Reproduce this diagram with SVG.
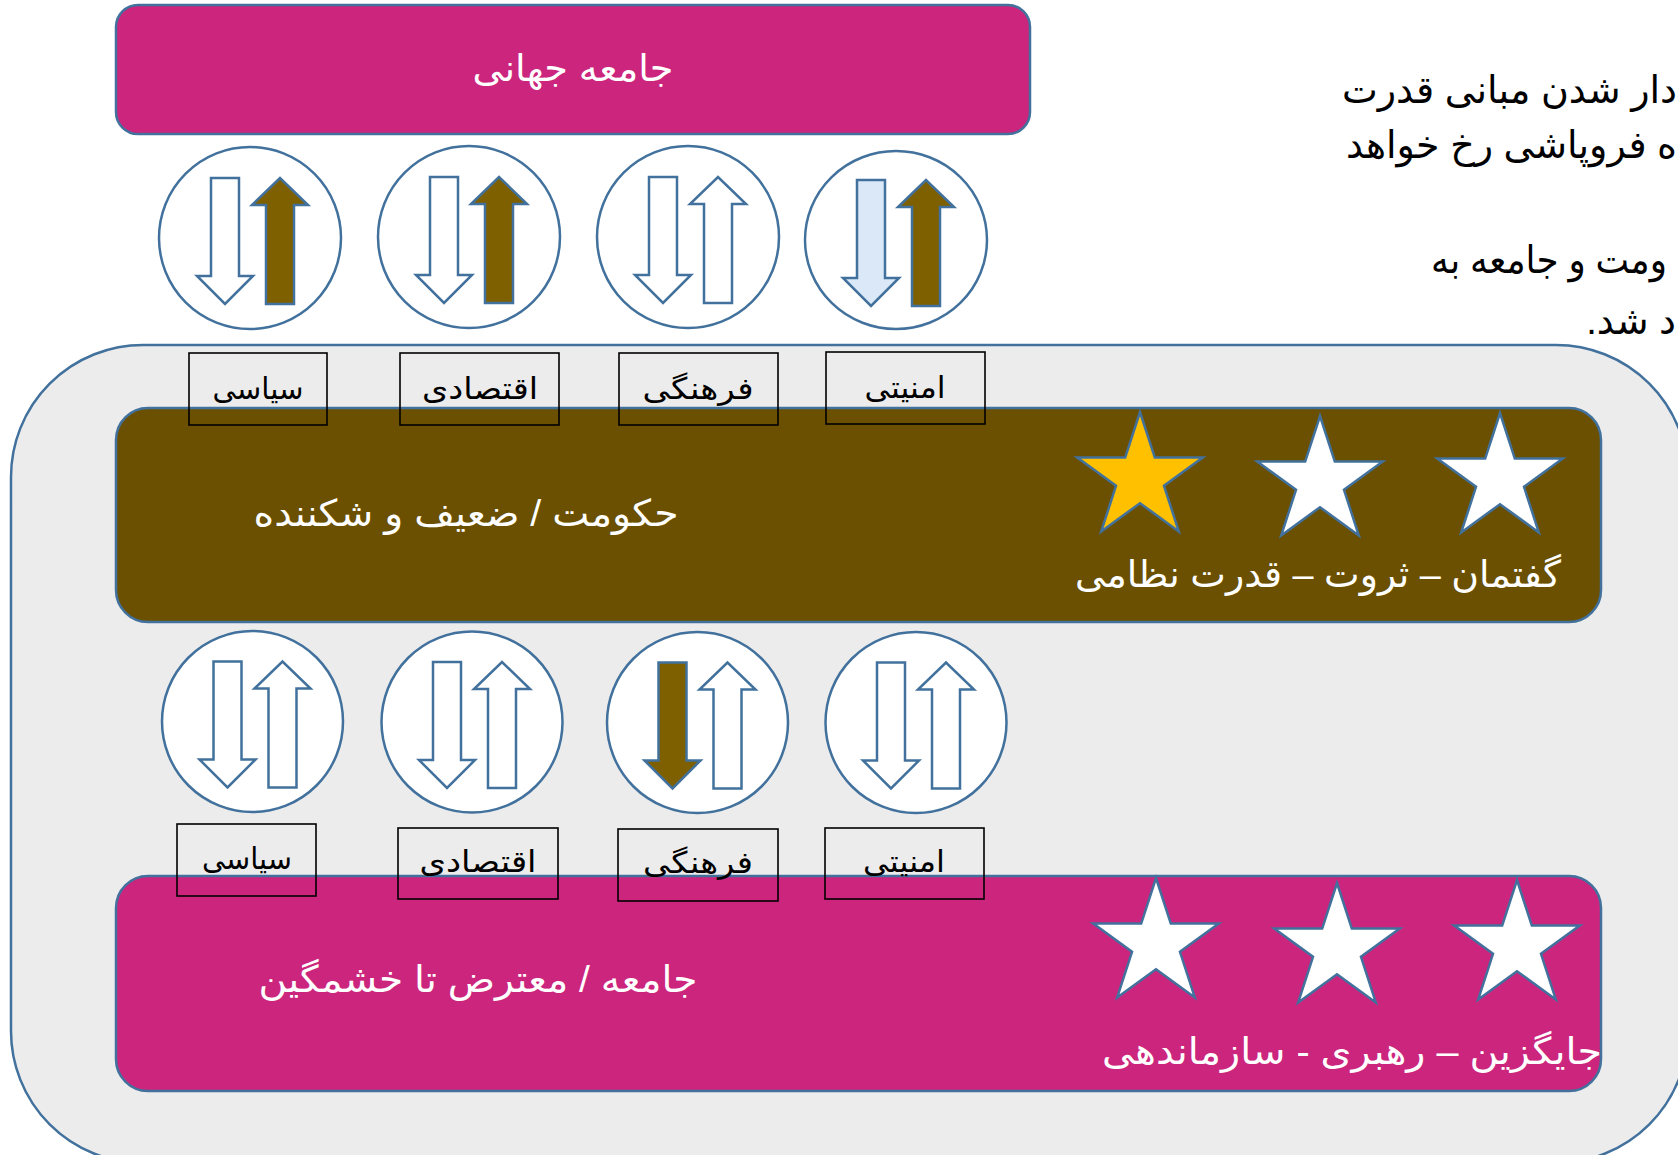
<svg xmlns="http://www.w3.org/2000/svg" xmlns:xlink="http://www.w3.org/1999/xlink" width="1678" height="1155" viewBox="0 0 1678 1155">
<style>
.txt{font-family:"Liberation Sans","DejaVu Sans",sans-serif;}
.wt{fill:#FFFFFF;}
.bk{fill:#000000;}
.circ{fill:#FFFFFF;stroke:#41719C;stroke-width:2.5;}
.arr{stroke:#41719C;stroke-width:2.5;stroke-linejoin:miter;}
.aw{fill:#FFFFFF;}
.ab{fill:#7F6000;}
.al{fill:#DAE8F7;}
.star{stroke:#41719C;stroke-width:2.5;}
.lbl{fill:none;stroke:#000000;stroke-width:1.6;}
.bar{stroke:#41719C;stroke-width:2.5;}
</style>
<defs>
<path id="down" d="M-39,-60 H-11 V38 H3 L-25,66 L-53,38 H-39 Z"/>
<path id="up" d="M16,66 V-33 H2 L30,-60 L58,-33 H44 V66 Z"/>
<polygon id="star5" points="0,-66 14.81,-20.39 62.77,-20.4 23.97,7.79 38.79,53.4 0,25.2 -38.79,53.4 -23.97,7.79 -62.77,-20.4 -14.81,-20.39"/>
</defs>
<rect width="1678" height="1155" fill="#FFFFFF"/>

<g id="paragraph" class="txt bk" font-size="38" direction="rtl" text-anchor="start">
<text x="1677" y="103" textLength="335" lengthAdjust="spacingAndGlyphs">دار شدن مبانی قدرت</text>
<text x="1677" y="158" textLength="331" lengthAdjust="spacingAndGlyphs">ه فروپاشی رخ خواهد</text>
<text x="1667" y="273" textLength="236" lengthAdjust="spacingAndGlyphs">ومت و جامعه به</text>
<text x="1676" y="334">د شد.</text>
</g>

<g id="container">
<rect x="11" y="345" width="1677" height="818" rx="132" ry="132" fill="#ECECEC" stroke="#41719C" stroke-width="2.5"/>
</g>

<g id="global-society">
<rect class="bar" x="116" y="5" width="914" height="129" rx="22" ry="22" fill="#CC257D"/>
<text class="txt wt" x="573" y="81" font-size="37" direction="rtl" text-anchor="middle" textLength="201" lengthAdjust="spacingAndGlyphs">جامعه جهانی</text>
</g>

<g id="top-circles">
<g id="tc1" transform="translate(250,238)"><circle class="circ" r="91"/><use href="#down" class="arr aw"/><use href="#up" class="arr ab"/></g>
<g id="tc2" transform="translate(469,237)"><circle class="circ" r="91"/><use href="#down" class="arr aw"/><use href="#up" class="arr ab"/></g>
<g id="tc3" transform="translate(688,237)"><circle class="circ" r="91"/><use href="#down" class="arr aw"/><use href="#up" class="arr aw"/></g>
<g id="tc4" transform="translate(896,240)"><ellipse class="circ" rx="91" ry="89"/><use href="#down" class="arr al"/><use href="#up" class="arr ab"/></g>
</g>

<g id="government">
<rect class="bar" x="116" y="408" width="1485" height="214" rx="32" ry="32" fill="#6A5000"/>
<text class="txt wt" x="466" y="526" font-size="37" direction="rtl" text-anchor="middle" textLength="425" lengthAdjust="spacingAndGlyphs">حکومت / ضعیف و شکننده</text>
<use href="#star5" x="1140" y="478" class="star" fill="#FFC000"/>
<use href="#star5" x="1320" y="482" class="star" fill="#FFFFFF"/>
<use href="#star5" x="1500" y="479" class="star" fill="#FFFFFF"/>
<text class="txt wt" x="1318" y="587" font-size="37" direction="rtl" text-anchor="middle" textLength="486" lengthAdjust="spacingAndGlyphs">گفتمان – ثروت – قدرت نظامی</text>
</g>

<g id="top-labels" class="txt" font-size="30" text-anchor="middle" direction="rtl">
<g id="tl1"><rect class="lbl" x="189" y="353" width="138" height="72"/><text class="bk" x="258" y="399" textLength="91" lengthAdjust="spacingAndGlyphs">سیاسی</text></g>
<g id="tl2"><rect class="lbl" x="400" y="353" width="159" height="72"/><text class="bk" x="480" y="399" textLength="116" lengthAdjust="spacingAndGlyphs">اقتصادی</text></g>
<g id="tl3"><rect class="lbl" x="619" y="353" width="159" height="72"/><text class="bk" x="698" y="399" textLength="111" lengthAdjust="spacingAndGlyphs">فرهنگی</text></g>
<g id="tl4"><rect class="lbl" x="826" y="352" width="159" height="72"/><text class="bk" x="905" y="398" textLength="81" lengthAdjust="spacingAndGlyphs">امنیتی</text></g>
</g>

<g id="bottom-circles">
<g id="bc1" transform="translate(252.5,721.5)"><circle class="circ" r="90.5"/><use href="#down" class="arr aw"/><use href="#up" class="arr aw"/></g>
<g id="bc2" transform="translate(472,722)"><circle class="circ" r="90.5"/><use href="#down" class="arr aw"/><use href="#up" class="arr aw"/></g>
<g id="bc3" transform="translate(697.5,722.5)"><circle class="circ" r="90.5"/><use href="#down" class="arr ab"/><use href="#up" class="arr aw"/></g>
<g id="bc4" transform="translate(916,722.5)"><circle class="circ" r="90.5"/><use href="#down" class="arr aw"/><use href="#up" class="arr aw"/></g>
</g>

<g id="society">
<rect class="bar" x="116" y="876" width="1485" height="215" rx="32" ry="32" fill="#CC257D"/>
<text class="txt wt" x="478" y="992" font-size="37" direction="rtl" text-anchor="middle" textLength="439" lengthAdjust="spacingAndGlyphs">جامعه / معترض تا خشمگین</text>
<use href="#star5" x="1156" y="944" class="star" fill="#FFFFFF"/>
<use href="#star5" x="1337" y="949" class="star" fill="#FFFFFF"/>
<use href="#star5" x="1517" y="946" class="star" fill="#FFFFFF"/>
<text class="txt wt" x="1352" y="1064" font-size="37" direction="rtl" text-anchor="middle" textLength="500" lengthAdjust="spacingAndGlyphs">جایگزین – رهبری - سازماندهی</text>
</g>

<g id="bottom-labels" class="txt" font-size="30" text-anchor="middle" direction="rtl">
<g id="bl1"><rect class="lbl" x="177" y="824" width="139" height="72"/><text class="bk" x="247" y="869" textLength="90" lengthAdjust="spacingAndGlyphs">سیاسی</text></g>
<g id="bl2"><rect class="lbl" x="398" y="828" width="160" height="71"/><text class="bk" x="478" y="872" textLength="117" lengthAdjust="spacingAndGlyphs">اقتصادی</text></g>
<g id="bl3"><rect class="lbl" x="618" y="829" width="160" height="72"/><text class="bk" x="698" y="873" textLength="110" lengthAdjust="spacingAndGlyphs">فرهنگی</text></g>
<g id="bl4"><rect class="lbl" x="825" y="828" width="159" height="71"/><text class="bk" x="904" y="872" textLength="82" lengthAdjust="spacingAndGlyphs">امنیتی</text></g>
</g>

<g id="connectors"></g>
</svg>
